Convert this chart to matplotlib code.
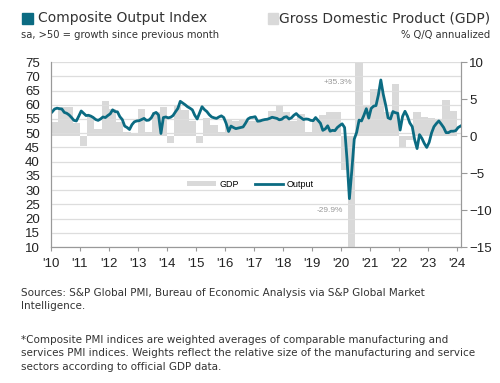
# US composite PMI output index vs real GDP growth, 2010-2024
import numpy as np
import matplotlib.pyplot as plt
from matplotlib.patches import Rectangle

teal = '#0b6b82'
gdp_grey = '#d9d9d9'

# monthly composite output index, Jan 2010 - Feb 2024
pmi = [
    57.5, 58.5, 58.8, 58.6, 58.5, 57.3, 57.0, 56.4, 55.5, 54.5, 54.3, 56.0,  # 2010
    57.8, 57.0, 56.2, 56.3, 56.0, 55.5, 54.8, 54.5, 55.0, 55.7, 55.5, 56.2,  # 2011
    56.8, 58.2, 57.6, 57.5, 55.8, 54.8, 52.5, 52.0, 51.3, 53.0, 54.0, 54.3,  # 2012
    54.4, 54.8, 55.2, 54.5, 54.6, 55.4, 56.9, 57.3, 56.4, 49.9, 55.5, 55.7,  # 2013
    55.4, 55.6, 56.2, 57.5, 58.7, 61.2, 60.6, 60.0, 59.3, 58.8, 58.2, 56.3,  # 2014
    55.0, 57.2, 59.3, 58.3, 57.6, 56.5, 55.7, 55.4, 55.2, 55.7, 56.1, 55.5,  # 2015
    53.4, 50.6, 52.5, 52.0, 51.6, 51.8, 52.0, 52.2, 53.5, 55.0, 55.5, 55.6,  # 2016
    55.8, 54.2, 54.3, 54.6, 54.8, 54.9, 55.2, 55.6, 55.4, 55.2, 54.7, 54.9,  # 2017
    55.6, 55.8, 55.0, 55.4, 56.3, 56.9, 56.0, 55.4, 54.8, 55.0, 54.9, 54.5,  # 2018
    54.4, 55.5, 54.5, 53.5, 51.0, 51.5, 52.6, 50.7, 51.0, 50.9, 52.0, 52.7,  # 2019
    53.3, 52.0, 40.9, 27.0, 37.0, 47.9, 50.3, 54.6, 54.3, 56.3, 58.6, 55.3,  # 2020
    58.7, 59.5, 59.7, 63.5, 68.7, 63.7, 59.9, 55.4, 55.0, 57.6, 57.2, 57.0,  # 2021
    51.1, 55.9, 57.7, 56.0, 53.6, 52.3, 47.7, 44.6, 49.5, 48.2, 46.4, 45.0,  # 2022
    46.8, 50.1, 52.3, 53.4, 54.3, 53.2, 52.0, 50.2, 50.2, 50.7, 50.7, 50.9,  # 2023
    52.0, 52.5,                                                              # 2024
]

# quarterly real GDP, % q/q annualized, 2010Q1 - 2023Q4
gdp = [
    1.9, 3.9, 3.9, 1.7,
    -1.4, 2.7, 0.9, 4.7,
    3.6, 1.9, 0.6, 0.4,
    3.6, 0.5, 3.2, 3.9,
    -1.0, 4.0, 3.5, 2.0,
    -0.9, 2.4, 1.5, 0.6,
    2.3, 2.1, 2.3, 2.0,
    2.0, 2.3, 3.4, 4.1,
    3.3, 2.1, 3.0, 0.6,
    2.2, 2.9, 3.3, 3.3,
    -4.6, -29.9, 35.3, 4.2,
    6.3, 6.4, 3.3, 7.0,
    -1.5, -0.5, 3.2, 2.6,
    2.4, 2.2, 4.9, 3.4,
]

years = list(range(2010, 2025))
year_labels = ["'" + str(y)[2:] for y in years]

t_month = 2010 + (np.arange(len(pmi)) + 0.5) / 12
t_quarter = 2010 + (np.arange(len(gdp)) + 0.5) / 4

plt.rcParams['font.family'] = 'Liberation Sans'

fig = plt.figure(figsize=(5, 3.83), dpi=100)
ax = fig.add_axes([0.102, 0.355, 0.82, 0.483])
ax2 = ax.twinx()

# gdp bars on the right axis, behind the line
ax.set_zorder(2)
ax.patch.set_visible(False)
ax2.bar(t_quarter, gdp, width=0.25, color=gdp_grey, label='GDP')
ax2.set_ylim(-15, 10)
ax2.set_yticks(range(-15, 11, 5))

ax.plot(t_month, pmi, color=teal, lw=2.0, label='Output')
ax.set_ylim(10, 75)
ax.set_yticks(range(10, 76, 5))
ax.set_xlim(2010, 2024.14)
ax.set_xticks(years)
ax.set_xticklabels(year_labels)
ax.grid(axis='y', color='#dddddd', lw=0.9)
ax.set_axisbelow(True)

for a in (ax, ax2):
    a.spines['top'].set_visible(False)
    for s in ('left', 'right', 'bottom'):
        a.spines[s].set_color('#999999')
    a.tick_params(labelsize=9.5, colors='#222222')
ax.tick_params(axis='y', length=0, pad=8)
ax.tick_params(axis='x', length=3, color='#999999', pad=5)
ax2.tick_params(axis='y', length=4, color='#999999', pad=2)

ax2.text(2020.39, 7.3, '+35.3%', fontsize=6, color='#999999', ha='right', va='center')
ax2.text(2019.6, -10.1, '-29.9%', fontsize=6, color='#999999', ha='center', va='center')

handles = ax2.get_legend_handles_labels()[0] + ax.get_legend_handles_labels()[0]
ax.legend(handles, ['GDP', 'Output'], ncol=2, frameon=False, fontsize=6.5,
          loc='center', bbox_to_anchor=(0.487, 0.34), handlelength=3.2,
          handleheight=0.5, handletextpad=0.4, columnspacing=1.7)

# header
hdr = 'DejaVu Sans'
fig.patches.append(Rectangle((0.044, 0.937), 0.022, 0.0287, color=teal,
                             transform=fig.transFigure))
fig.text(0.076, 0.952, 'Composite Output Index', fontsize=10, family=hdr,
         color='#333333', va='center')
fig.text(0.042, 0.909, 'sa, >50 = growth since previous month', fontsize=7.2,
         family=hdr, color='#333333', va='center')
fig.patches.append(Rectangle((0.536, 0.937), 0.02, 0.0287, color=gdp_grey,
                             transform=fig.transFigure))
fig.text(0.98, 0.952, 'Gross Domestic Product (GDP)', fontsize=10, family=hdr,
         color='#333333', va='center', ha='right')
fig.text(0.98, 0.909, '% Q/Q annualized', fontsize=7.2, family=hdr,
         color='#333333', va='center', ha='right')

# footer
foot = [
    (293, 'Sources: S&P Global PMI, Bureau of Economic Analysis via S&P Global Market'),
    (306, 'Intelligence.'),
    (340, '*Composite PMI indices are weighted averages of comparable manufacturing and'),
    (353, 'services PMI indices. Weights reflect the relative size of the manufacturing and service'),
    (367, 'sectors according to official GDP data.'),
]
for y, s in foot:
    fig.text(0.042, 1 - y / 383, s, fontsize=7.5, family=hdr, color='#333333', va='center')

fig.savefig('out.png', dpi=100)
